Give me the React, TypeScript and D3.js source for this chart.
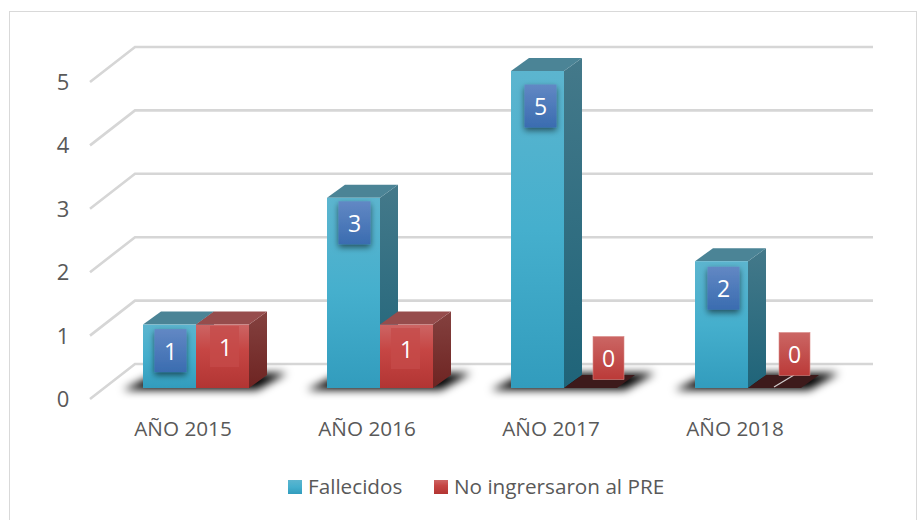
import React from "react";
import * as d3 from "d3";

const categories = ["AÑO 2015", "AÑO 2016", "AÑO 2017", "AÑO 2018"];
const seriesNames = ["Fallecidos", "No ingrersaron al PRE"];
const fallecidos = [1, 3, 5, 2];
const noIngresaron = [1, 1, 0, 0];
const yTicks = [0, 1, 2, 3, 4, 5];
const allSeries = [fallecidos, noIngresaron];

// label box centre nudges from the bar's top, per series then category
const labelDy = [[26, 25, 35, 27], [22, 24, 30, 26]];
const labelDx = [[1, 1, 3, 2], [3, 0, 18, 20]];

const FONT = "'Open Sans', sans-serif";
const y = d3.scaleLinear().domain([0, 5]).range([388, 71]);
const x = d3.scaleBand().domain(categories).range([104, 840]).paddingInner(0).paddingOuter(0);
const BAR_W = 53, DX = 18, DY = 13;
const WALL_DX = 45, WALL_DY = 35;

const path = d3.path;
function poly(pts: number[][]) {
  const p = path();
  pts.forEach((q, i) => (i ? p.lineTo(q[0], q[1]) : p.moveTo(q[0], q[1])));
  p.closePath();
  return p.toString();
}

const palettes = [
  { f: "gradBlue", top: "#4b8496", side: "gradBlueSide" },
  { f: "gradRed", top: "#964c4c", side: "gradRedSide" },
];

export default function App() {
  return (
    <svg width={919} height={520} style={{ position: "absolute", left: 0, top: 0, background: "#fff" }} fontFamily={FONT}>
      <defs>
        <linearGradient id="gradBlue" x1="0" y1="0" x2="0" y2="1">
          <stop offset="0" stopColor="#5cb5cf" /><stop offset="0.5" stopColor="#45afcd" /><stop offset="1" stopColor="#329cbd" />
        </linearGradient>
        <linearGradient id="gradBlueSide" x1="0" y1="0" x2="0" y2="1">
          <stop offset="0" stopColor="#44798a" /><stop offset="1" stopColor="#1f6479" />
        </linearGradient>
        <linearGradient id="gradRed" x1="0" y1="0" x2="0" y2="1">
          <stop offset="0" stopColor="#cd6564" /><stop offset="0.4" stopColor="#c64644" /><stop offset="1" stopColor="#b23533" />
        </linearGradient>
        <linearGradient id="gradRedSide" x1="0" y1="0" x2="0" y2="1">
          <stop offset="0" stopColor="#84413f" /><stop offset="1" stopColor="#6e2422" />
        </linearGradient>
        <linearGradient id="boxBlue" x1="0" y1="0" x2="0" y2="1">
          <stop offset="0" stopColor="#6288c4" /><stop offset="1" stopColor="#3a6cb0" />
        </linearGradient>
        <linearGradient id="boxRed" x1="0" y1="0" x2="0" y2="1">
          <stop offset="0" stopColor="#cb6664" /><stop offset="1" stopColor="#bb3a38" />
        </linearGradient>
        <filter id="blur" x="-30%" y="-100%" width="160%" height="300%"><feGaussianBlur stdDeviation="4" /></filter>
        <filter id="boxShadow" x="-40%" y="-40%" width="180%" height="180%">
          <feDropShadow dx="0" dy="3" stdDeviation="3" floodColor="#000" floodOpacity="0.55" />
        </filter>
      </defs>

      <rect x={9.5} y={11.5} width={907} height={520} fill="#fff" stroke="#d9d9d9" strokeWidth={1} />

      {/* walls and grid */}
      {yTicks.map((t) => {
        const by = y(t) - 24;
        return (
          <path key={t} d={`M${135 - WALL_DX},${by + WALL_DY}L135,${by}L873,${by}`}
            fill="none" stroke="#d6d6d6" strokeWidth={2.6} />
        );
      })}

      {yTicks.map((t) => (
        <text key={t} x={63} y={y(t) + 19} fontSize={22} textAnchor="middle" fill="#595959">{t}</text>
      ))}

      {/* floor shadows */}
      {categories.map((c) => {
        const x0 = x(c)! + 39;
        const right = x0 + 2 * BAR_W;
        return (
          <path key={c} filter="url(#blur)" fill="#000" opacity={1}
            d={poly([[x0 - 20, 390], [right + 8, 390], [right + DX + 20, 373], [x0 + 14, 373]])} />
        );
      })}

      {/* bars */}
      {categories.map((c, i) => {
        const x0 = x(c)! + 39;
        return [0, 1].map((s) => {
          const v = allSeries[s][i];
          const l = x0 + s * BAR_W, r = l + BAR_W;
          const t = y(v), b = y(0);
          const pal = palettes[s];
          if (v === 0) {
            return (
              <path key={s} fill="#3d1a1b"
                d={poly([[l, b], [r, b], [r + DX, b - DY], [l + DX, b - DY]])} />
            );
          }
          return (
            <g key={s}>
              <path d={poly([[r, t], [r + DX, t - DY], [r + DX, b - DY], [r, b]])} fill={`url(#${pal.side})`} />
              <path d={poly([[l, t], [l + DX, t - DY], [r + DX, t - DY], [r, t]])} fill={pal.top} />
              <rect x={l} y={t} width={BAR_W} height={b - t} fill={`url(#${pal.f})`} />
            </g>
          );
        });
      })}

      {/* leader line for last label */}
      <line x1={774} y1={387} x2={794} y2={375} stroke="#d0cccc" strokeWidth={1.3} />

      {/* data labels */}
      {categories.map((c, i) => {
        const x0 = x(c)! + 39;
        return [0, 1].map((s) => {
          const v = allSeries[s][i];
          const cx = x0 + s * BAR_W + BAR_W / 2 + labelDx[s][i];
          const cy = y(v) + labelDy[s][i] - (v === 0 ? 60 : 0);
          const blueBox = s === 0;
          const w = blueBox ? 32 : 31, h = blueBox ? 43 : v === 0 ? 43 : 41;
          return (
            <g key={s}>
              {blueBox ? (
                <rect x={cx - w / 2} y={cy - h / 2} width={w} height={h} fill="url(#boxBlue)" filter="url(#boxShadow)" />
              ) : v === 0 ? (
                <rect x={cx - w / 2} y={cy - h / 2} width={w} height={h} fill="url(#boxRed)" stroke="#d98a88" strokeWidth={0.6} />
              ) : (
                <rect x={cx - w / 2} y={cy - h / 2} width={w - 2} height={h} fill="#c54b49" opacity={0.75} />
              )}
              <text x={cx} y={cy + 9} fontSize={23} textAnchor="middle" fill="#fff">{v}</text>
            </g>
          );
        });
      })}

      {/* category labels */}
      {categories.map((c) => (
        <text key={c} x={x(c)! + x.bandwidth() / 2 - 13} y={436} fontSize={20.7} textAnchor="middle" fill="#595959">{c}</text>
      ))}

      {/* legend */}
      <rect x={288} y={480} width={14} height={14} fill="url(#gradBlue)" />
      <text x={308} y={494} fontSize={20.7} fill="#595959">{seriesNames[0]}</text>
      <rect x={434} y={480} width={14} height={14} fill="url(#gradRed)" />
      <text x={454} y={494} fontSize={20.7} fill="#595959">{seriesNames[1]}</text>
    </svg>
  );
}
